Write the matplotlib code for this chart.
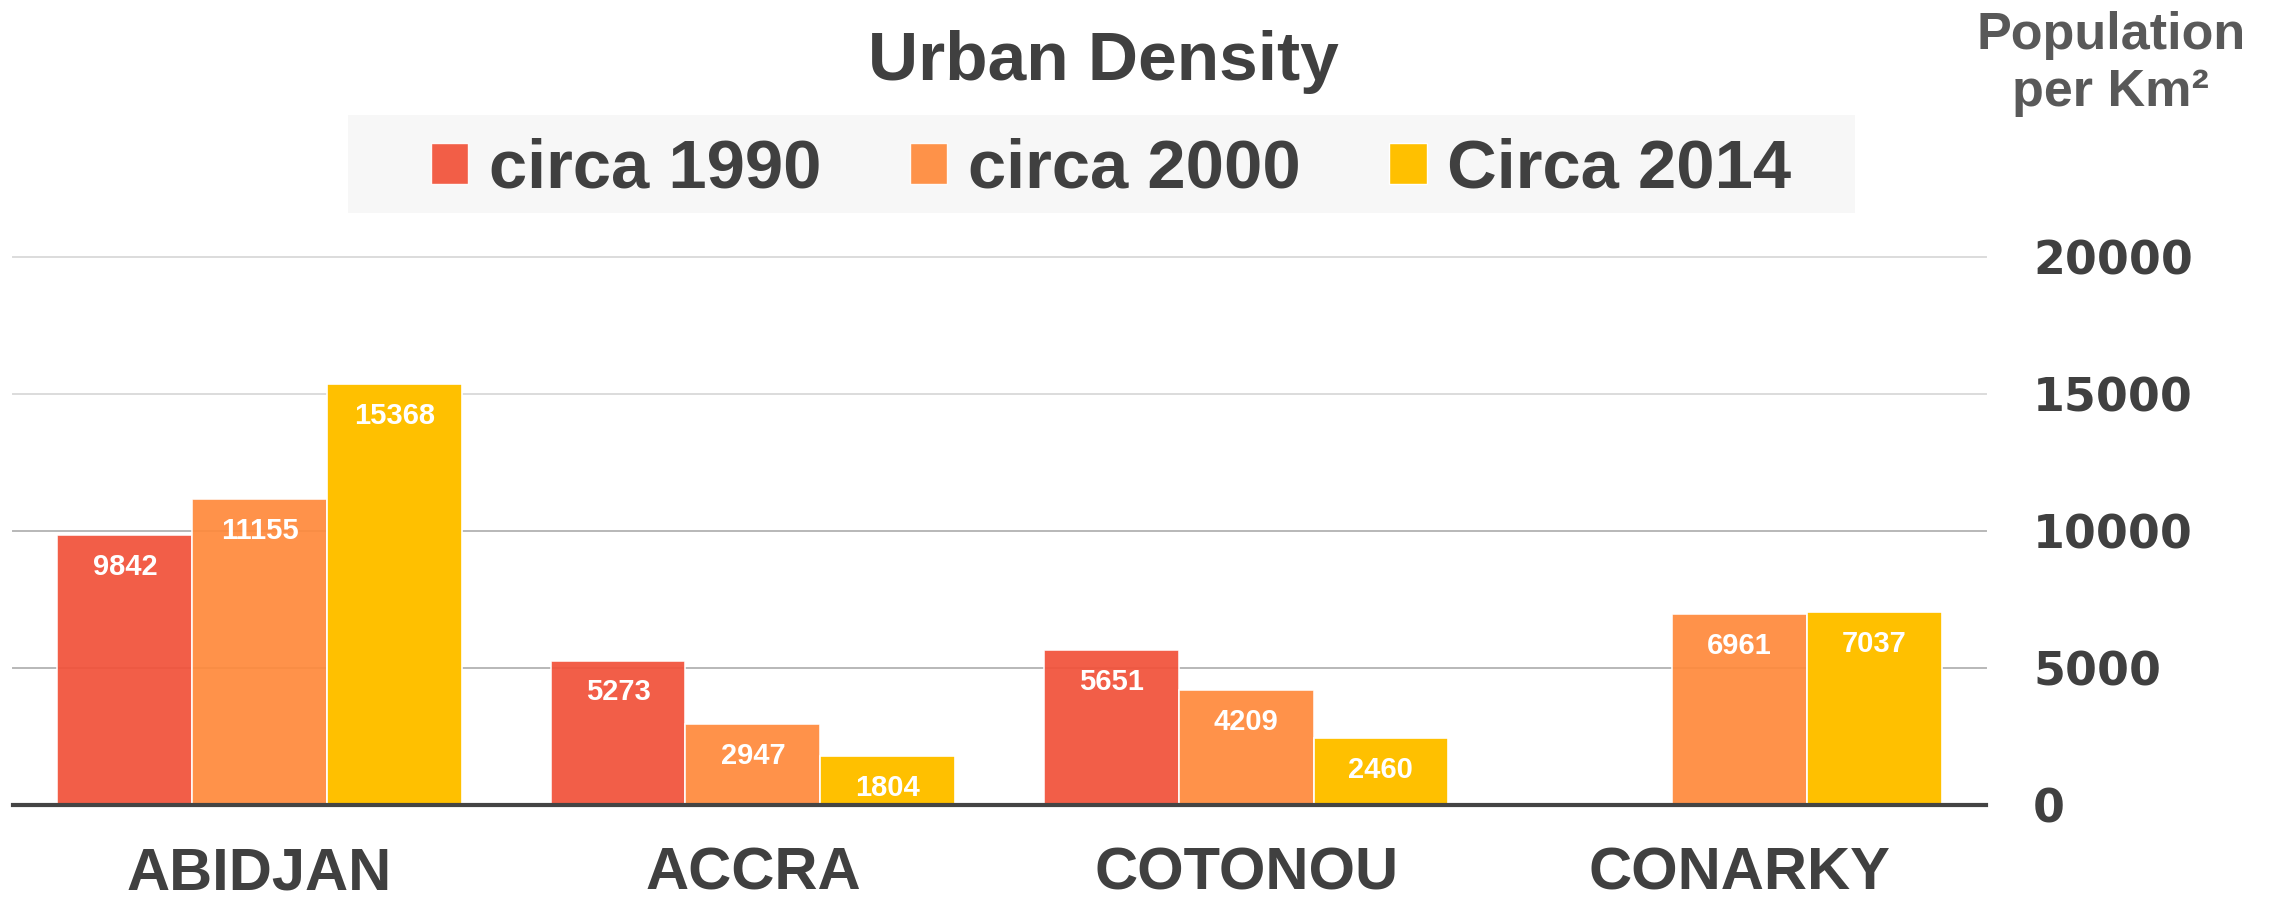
import numpy as np
import matplotlib
matplotlib.use("Agg")
import matplotlib.pyplot as plt
from matplotlib.patches import Rectangle, Patch

# data
cities = ["ABIDJAN", "ACCRA", "COTONOU", "CONARKY"]
series_names = ["circa 1990", "circa 2000", "Circa 2014"]
circa_1990 = [9842, 5273, 5651, np.nan]
circa_2000 = [11155, 2947, 4209, 6961]
circa_2014 = [15368, 1804, 2460, 7037]
y_ticks = [0, 5000, 10000, 15000, 20000]

colors = ["#F2523A", "#FF8A3C", "#FFC000"]
alphas = [0.93, 0.93, 1.0]
grid_colors = ["#444444", "#b8b8b8", "#b8b8b8", "#dcdcdc", "#dcdcdc"]
text_dark = "#404040"
heavy = ["Liberation Sans", "DejaVu Sans"]

W, H = 2279, 909
fig = plt.figure(figsize=(W / 100, H / 100), dpi=100)
fig.patch.set_facecolor("white")
ax = fig.add_axes([13 / W, 1 - 805 / H, (1986 - 13) / W, (805 - 257) / H])
ax.set_facecolor("none")

x = np.arange(len(cities))
w = 135 / 494
values = [circa_1990, circa_2000, circa_2014]

for yt, gc in zip(y_ticks[1:], grid_colors[1:]):
    ax.axhline(yt, color=gc, lw=1.4, zorder=0, clip_on=False)

for i, (vals, col, al) in enumerate(zip(values, colors, alphas)):
    pos = x + (i - 1) * w
    bars = ax.bar(pos, vals, width=w, color=col, alpha=al,
                  edgecolor=(1, 1, 1, 0.35), linewidth=1.2, zorder=2)
    for xp, v in zip(pos, vals):
        if np.isnan(v):
            continue
        ax.annotate(str(int(v)), xy=(xp, v), xytext=(0, -23),
                    textcoords="offset points", ha="center", va="center",
                    color="white", fontsize=21, fontweight="bold",
                    family=heavy, zorder=3)

# baseline, not clipped so the full thickness shows
ax.axhline(0, color=grid_colors[0], lw=3, zorder=4, clip_on=False)

ax.set_xlim(-0.5, len(cities) - 0.5)
ax.set_ylim(0, 20000)
for s in ax.spines.values():
    s.set_visible(False)

ax.set_xticks(x)
ax.set_xticklabels(cities, fontsize=43, fontweight="bold", color=text_dark,
                   family=heavy)
ax.tick_params(axis="x", length=0, pad=30)

ax.yaxis.tick_right()
ax.set_yticks(y_ticks)
ax.set_yticklabels([str(t) for t in y_ticks], fontsize=33, fontweight="bold",
                   color=text_dark, family=["DejaVu Sans"])
ax.tick_params(axis="y", length=0, pad=34)
for lab in ax.get_yticklabels():
    lab.set_horizontalalignment("left")

# title
fig.text(1103 / W, 1 - 80 / H, "Urban Density", ha="center", va="baseline",
         fontsize=50, fontweight="bold", color=text_dark, family=heavy)

# axis label on the right
fig.text(2111 / W, 1 - 49 / H, "Population", ha="center", va="baseline",
         fontsize=37.5, fontweight="bold", color="#595959", family=heavy)
fig.text(2111 / W, 1 - 106 / H, "per Km²", ha="center", va="baseline",
         fontsize=37.5, fontweight="bold", color="#595959", family=heavy)

# legend with grey band behind it
fig.patches.append(Rectangle((348 / W, 1 - 213 / H), (1855 - 348) / W, (213 - 115) / H,
                             transform=fig.transFigure, facecolor="#f7f7f7",
                             edgecolor="none", zorder=0))
handles = [Patch(facecolor=c, alpha=a, edgecolor=(1, 1, 1, 0.35))
           for c, a in zip(colors, alphas)]
fig.legend(handles, series_names, loc="center", bbox_to_anchor=(1111 / W, 1 - 170 / H),
           ncol=3, frameon=False, handlelength=0.55, handleheight=0.55,
           handletextpad=0.3, columnspacing=1.28, labelcolor=text_dark,
           prop={"family": heavy, "weight": "bold", "size": 49.5})

fig.savefig("out.png", dpi=100, facecolor="white")
